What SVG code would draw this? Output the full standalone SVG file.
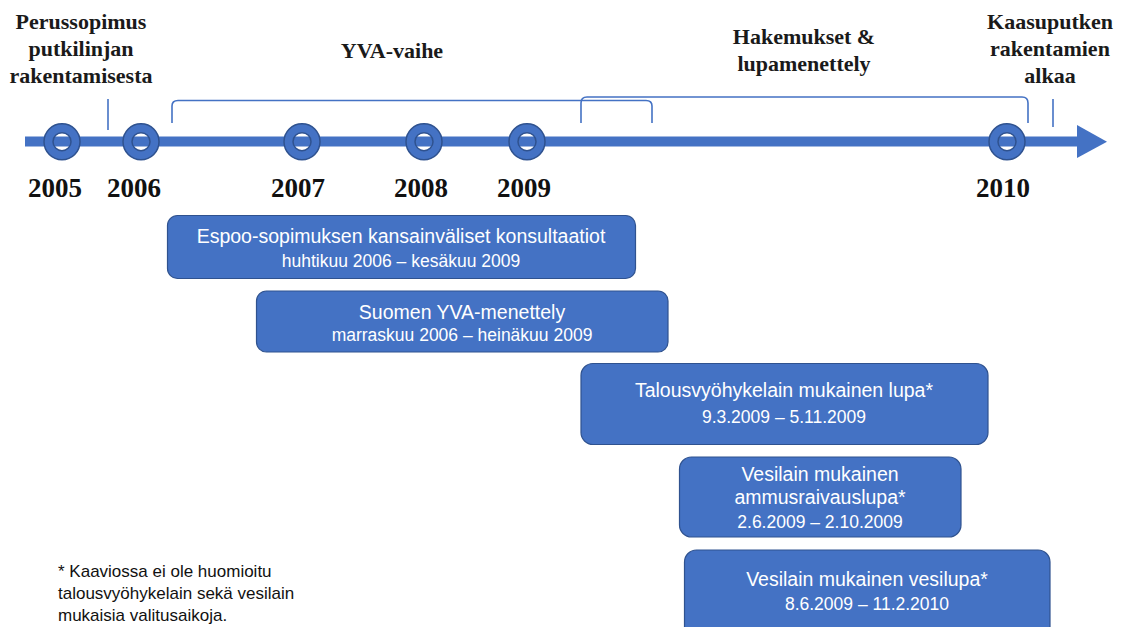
<svg xmlns="http://www.w3.org/2000/svg" width="1126" height="627" viewBox="0 0 1126 627">
<style>
.lbl{font-family:"Liberation Serif","Times New Roman",serif;font-weight:bold;font-size:22px;fill:#1a1a1a;text-anchor:middle}
.yr{font-family:"Liberation Serif","Times New Roman",serif;font-weight:bold;font-size:27px;fill:#111;text-anchor:middle}
.box{fill:#4472C4;stroke:#2F528F;stroke-width:1.2}
.bt{font-family:"Liberation Sans",Arial,sans-serif;fill:#fff;text-anchor:middle}
.t1{font-size:19.5px}
.t2{font-size:17.5px}
.br{fill:none;stroke:#4472C4;stroke-width:1.6}
.ms{fill:none;stroke:#4472C4;stroke-width:9}
.msl{fill:none;stroke:#2F528F;stroke-width:1.5}
.note{font-family:"Liberation Sans",Arial,sans-serif;font-size:17px;fill:#111}
</style>
<rect width="1126" height="627" fill="#fff"/>
<g id="connectors">
<rect x="25" y="136.5" width="1054" height="10" fill="#4472C4"/>
<polygon points="1077,125 1107,141.7 1077,158" fill="#4472C4"/>
<path class="br" d="M172,123 V106 Q172,100.5 178,100.5 H646 Q652,100.5 652,106 V123"/>
<path class="br" d="M581,123 V103 Q581,97 587,97 H1022 Q1028,97 1028,103 V123"/>
<line class="br" x1="108" y1="99" x2="108" y2="130"/>
<line class="br" x1="1053" y1="99" x2="1053" y2="127"/>
</g>
<g id="m2005"><circle class="ms" cx="62" cy="141.7" r="13.5"/><circle class="msl" cx="62" cy="141.7" r="18"/><circle class="msl" cx="62" cy="141.7" r="9"/><text class="yr" x="55" y="197">2005</text></g>
<g id="m2006"><circle class="ms" cx="141" cy="141.7" r="13.5"/><circle class="msl" cx="141" cy="141.7" r="18"/><circle class="msl" cx="141" cy="141.7" r="9"/><text class="yr" x="134" y="197">2006</text></g>
<g id="m2007"><circle class="ms" cx="302" cy="141.7" r="13.5"/><circle class="msl" cx="302" cy="141.7" r="18"/><circle class="msl" cx="302" cy="141.7" r="9"/><text class="yr" x="298" y="197">2007</text></g>
<g id="m2008"><circle class="ms" cx="424" cy="141.7" r="13.5"/><circle class="msl" cx="424" cy="141.7" r="18"/><circle class="msl" cx="424" cy="141.7" r="9"/><text class="yr" x="421" y="197">2008</text></g>
<g id="m2009"><circle class="ms" cx="527" cy="141.7" r="13.5"/><circle class="msl" cx="527" cy="141.7" r="18"/><circle class="msl" cx="527" cy="141.7" r="9"/><text class="yr" x="524" y="197">2009</text></g>
<g id="m2010"><circle class="ms" cx="1007" cy="141.7" r="13.5"/><circle class="msl" cx="1007" cy="141.7" r="18"/><circle class="msl" cx="1007" cy="141.7" r="9"/><text class="yr" x="1003" y="197">2010</text></g>
<g id="perussopimus"><text class="lbl" x="81" y="29">Perussopimus</text><text class="lbl" x="81" y="56">putkilinjan</text><text class="lbl" x="81" y="83">rakentamisesta</text></g>
<g id="yva-vaihe"><text class="lbl" x="392" y="58">YVA-vaihe</text></g>
<g id="hakemukset"><text class="lbl" x="804" y="44">Hakemukset &amp;</text><text class="lbl" x="804" y="71">lupamenettely</text></g>
<g id="kaasuputken"><text class="lbl" x="1050" y="29">Kaasuputken</text><text class="lbl" x="1050" y="56">rakentamien</text><text class="lbl" x="1050" y="83">alkaa</text></g>
<g id="espoo"><rect class="box" x="167.5" y="215.5" width="468" height="63" rx="10"/><text class="bt t1" x="401" y="243">Espoo-sopimuksen kansainväliset konsultaatiot</text><text class="bt t2" x="401" y="266.5">huhtikuu 2006 – kesäkuu 2009</text></g>
<g id="suomen-yva"><rect class="box" x="256.5" y="291" width="411.5" height="61" rx="10"/><text class="bt t1" x="462" y="318.5">Suomen YVA-menettely</text><text class="bt t2" x="462" y="340.5">marraskuu 2006 – heinäkuu 2009</text></g>
<g id="talousvyohyke"><rect class="box" x="581" y="363.5" width="407" height="81" rx="12"/><text class="bt t1" x="784" y="397">Talousvyöhykelain mukainen lupa*</text><text class="bt t2" x="784" y="423">9.3.2009 – 5.11.2009</text></g>
<g id="ammusraivaus"><rect class="box" x="679.5" y="457" width="281.5" height="80" rx="12"/><text class="bt t1" x="820" y="481">Vesilain mukainen</text><text class="bt t1" x="820" y="504">ammusraivauslupa*</text><text class="bt t2" x="820" y="528">2.6.2009 – 2.10.2009</text></g>
<g id="vesilupa"><rect class="box" x="684.5" y="550" width="365.5" height="95" rx="12"/><text class="bt t1" x="867" y="586">Vesilain mukainen vesilupa*</text><text class="bt t2" x="867" y="610">8.6.2009 – 11.2.2010</text></g>
<g id="footnote"><text class="note" x="58" y="577">* Kaaviossa ei ole huomioitu</text><text class="note" x="58" y="599">talousvyöhykelain sekä vesilain</text><text class="note" x="58" y="621">mukaisia valitusaikoja.</text></g>
</svg>
